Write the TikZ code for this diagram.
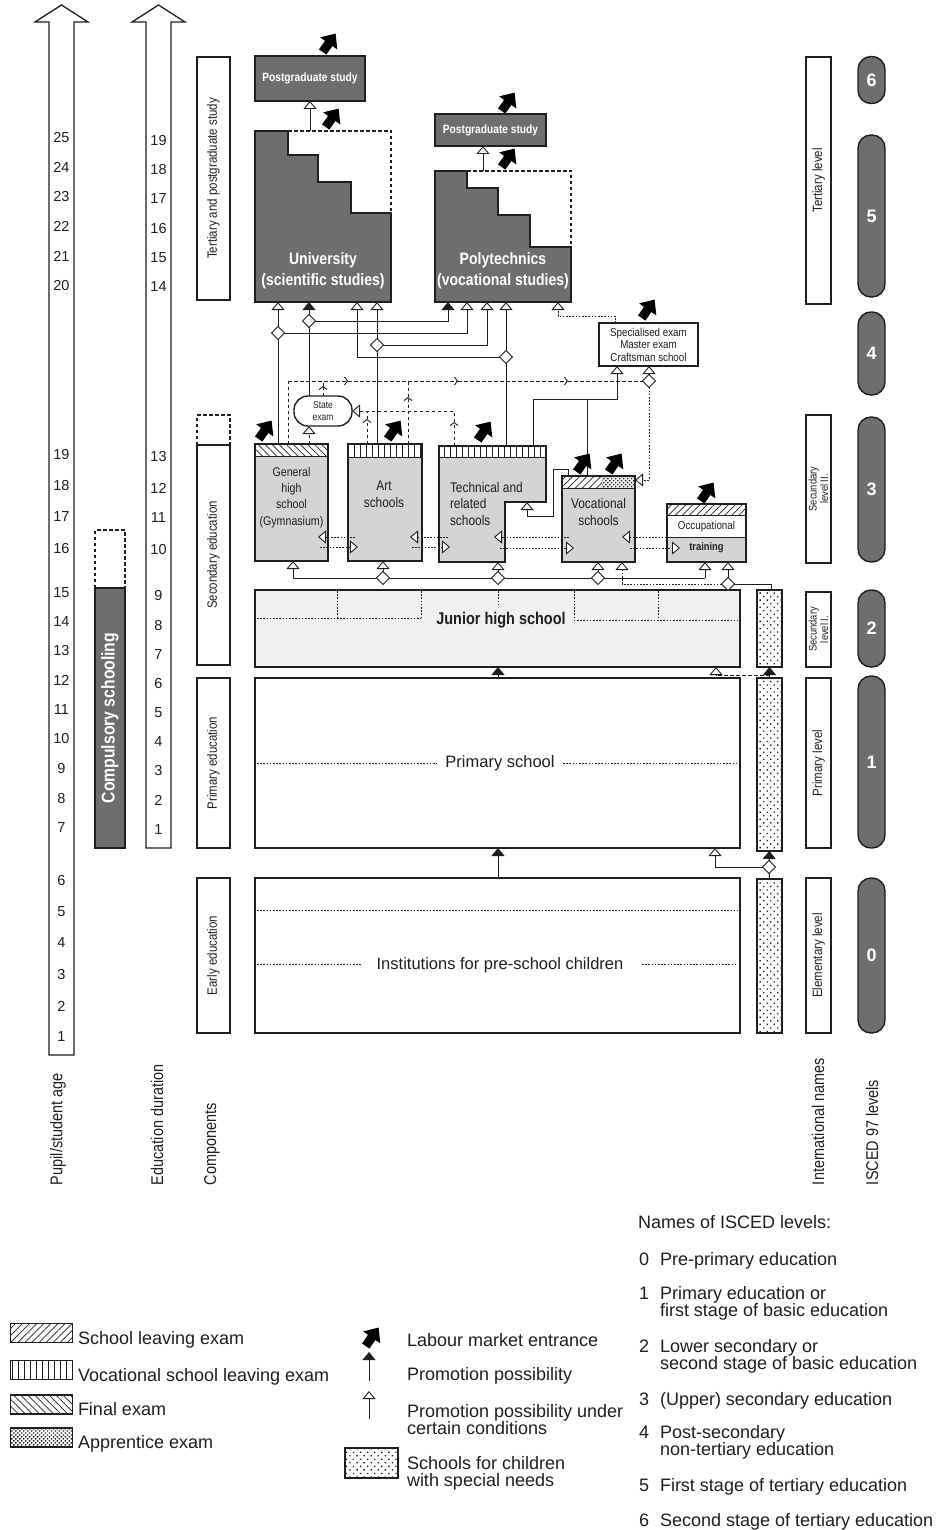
\documentclass[tikz,border=0pt]{standalone}
\usepackage{fontspec}
\setmainfont{Liberation Sans}
\newfontfamily\nf{Liberation Sans}[FakeStretch=0.85]
\usetikzlibrary{arrows.meta,shapes.geometric,patterns.meta}
\definecolor{dk}{gray}{0.43}
\definecolor{lt}{gray}{0.83}
\definecolor{vlt}{gray}{0.94}
\definecolor{ink}{gray}{0.12}
\newcommand\fs[2]{\fontsize{#1}{#2}\selectfont}
\tikzset{
  labour/.pic={\fill[black] (-4.5,11) -- (-4.5,0.5) -- (-10.5,0.5) -- (0,-11.5) -- (10.5,0.5) -- (4.5,0.5) -- (4.5,11) -- cycle;},
}
\begin{document}
\begin{tikzpicture}[x=1pt,y=-1pt,
  every node/.style={inner sep=0pt, outer sep=0pt, text=ink},
  bx/.style={draw=ink, line width=1.4pt},
  lbl/.style={bx, rotate=90, font=\nf\fs{13.5}{15}, align=center},
  pill/.style={draw=ink, line width=1.4pt, fill=dk, rounded corners=13pt, minimum width=27, text=white, font=\bfseries\fs{18}{20}},
  dkbox/.style={bx, fill=dk, text=white, font=\nf\bfseries\fs{12}{14}},
  sec/.style={bx, fill=lt},
  cn/.style={line width=1pt, draw=ink},
  otri/.style={-{Triangle[width=13pt,length=8pt,fill=white,line width=0.9pt]}},
  ftri/.style={-{Triangle[width=13pt,length=8pt]}},
  chev/.style={-{Straight Barb[length=3pt,width=8pt,line width=0.9pt]}},
  dsh/.style={dash pattern=on 3.5pt off 2.5pt},
  dtt/.style={dash pattern=on 1.6pt off 1.6pt},
  dia/.style={diamond, draw=ink, fill=white, line width=0.9pt, minimum width=13pt, minimum height=13pt},
  num/.style={font=\fs{14.5}{16}},
  snp/.style={bx, pattern color=ink, pattern={Dots[distance=5pt,radius=0.95pt,angle=45]}},
  leg/.style={anchor=base west, font=\fs{18}{18}},
  rlab/.style={rotate=90, anchor=west, font=\nf\fs{17}{19}},
]
\fill[white] (0,0) rectangle (935,1530);
\useasboundingbox (0,0) rectangle (935,1530);

% ---------- left scales ----------
\draw[line width=1.3pt, draw=ink, fill=white] (49,1055) -- (49,22) -- (35,22) -- (61.5,5) -- (88,22) -- (74,22) -- (74,1055) -- cycle;
\draw[line width=1.3pt, draw=ink, fill=white] (146,848) -- (146,22) -- (132,22) -- (158.5,5) -- (185,22) -- (171,22) -- (171,848) -- cycle;
\foreach \n/\y in {25/138,24/167,23/197,22/226,21/256,20/286,19/455,18/486,17/517,16/549,15/593,14/622,13/651,12/680,11/710,10/739,9/769,8/798,7/828,6/880,5/912,4/943,3/974,2/1006,1/1037}
  \node[num] at (61.5,\y) {\n};
\foreach \n/\y in {19/141,18/170,17/199,16/229,15/258,14/287,13/457,12/488,11/518,10/550,9/596,8/626,7/655,6/684,5/713,4/742,3/771,2/800,1/830}
  \node[num] at (158.5,\y) {\n};

\node[bx, fill=dk, minimum width=30, minimum height=260] (comp) at (110,718) {};
\node[rotate=90, text=white, font=\nf\bfseries\fs{18.5}{20}] at (comp.center) {Compulsory schooling};
\draw[ink, line width=1.2pt, dsh] (comp.north west) -- ++(0,-58) -- ++(30,0) -- (comp.north east);

% ---------- components ----------
\node[lbl, minimum width=243, minimum height=33] (cter) at (213.5,178.5) {Tertiary and postgraduate study};
\draw[ink, line width=1.2pt, dsh] (197,445) -- (197,415) -- (230,415) -- (230,445);
\node[lbl, minimum width=220, minimum height=33] (csec) at (213.5,555) {Secondary education};
\node[lbl, minimum width=170, minimum height=33] (cpri) at (213.5,763) {Primary education};
\node[lbl, minimum width=155, minimum height=33] (cear) at (213.5,955.5) {Early education};

% ---------- international names ----------
\node[lbl, minimum width=247, minimum height=25] (iter) at (818.5,180.5) {Tertiary level};
\node[lbl, minimum width=148, minimum height=25, font=\nf\fs{11}{11.5}] (isec2) at (818.5,489) {Secundary\\level II.};
\node[lbl, minimum width=75, minimum height=25, font=\nf\fs{11}{11.5}] (isec1) at (818.5,629.5) {Secundary\\level I.};
\node[lbl, minimum width=170, minimum height=25] (ipri) at (818.5,763) {Primary level};
\node[lbl, minimum width=155, minimum height=25] (iele) at (818.5,955.5) {Elementary level};

% ---------- ISCED ----------
\node[pill, minimum height=47] (l6) at (871.5,80) {6};
\node[pill, minimum height=162] (l5) at (871.5,216) {5};
\node[pill, minimum height=83] (l4) at (871.5,353.5) {4};
\node[pill, minimum height=145] (l3) at (871.5,489.5) {3};
\node[pill, minimum height=77] (l2) at (871.5,628.5) {2};
\node[pill, minimum height=172] (l1) at (871.5,762) {1};
\node[pill, minimum height=155] (l0) at (871.5,955.5) {0};

% ---------- bottom column titles ----------
\node[rlab] at (58,1185) {Pupil/student age};
\node[rlab] at (157,1185) {Education duration};
\node[rlab] at (212,1185) {Components};
\node[rlab] at (818,1185) {International names};
\node[rlab] at (872,1185) {ISCED 97 levels};

% ---------- tertiary ----------
\node[dkbox, minimum width=110, minimum height=45] (pg1) at (310,78.5) {Postgraduate study};
\node[dkbox, minimum width=111, minimum height=32] (pg2) at (490.5,130) {Postgraduate study};

\draw[bx, fill=dk] (255,131) -- (288,131) -- (288,155) -- (318,155) -- (318,182) -- (351,182) -- (351,213) -- (391,213) -- (391,302) -- (255,302) -- cycle;
\draw[ink, line width=1.4pt, dsh] (288,131) -- (391,131) -- (391,213);
\node[minimum width=136, minimum height=171] (uni) at (323,216.5) {};
\node[align=center, text=white, font=\nf\bfseries\fs{16.5}{21}] at (323,271) {University\\(scientific studies)};

\draw[bx, fill=dk] (435,171) -- (467,171) -- (467,188) -- (498,188) -- (498,215) -- (530,215) -- (530,247) -- (571,247) -- (571,302) -- (435,302) -- cycle;
\draw[ink, line width=1.4pt, dsh] (467,171) -- (571,171) -- (571,247);
\node[minimum width=136, minimum height=131] (poly) at (503,236.5) {};
\node[align=center, text=white, font=\nf\bfseries\fs{16.5}{21}] at (503,271) {Polytechnics\\(vocational studies)};

\draw[cn, otri] (uni.north -| 310,0) -- (pg1.south);
\draw[cn, otri] (poly.north -| 483,0) -- (pg2.south -| 483,0);

% ---------- post-secondary & state exam ----------
\node[bx, fill=white, minimum width=99, minimum height=43, align=center, font=\nf\fs{11.5}{12.5}] (spec) at (648.5,344.5) {Specialised exam\\Master exam\\Craftsman school};
\node[bx, fill=white, rounded corners=14pt, minimum width=58, minimum height=30, align=center, font=\nf\fs{10}{12}] (state) at (323,411) {State\\exam};

% ---------- secondary schools ----------
\node[sec, minimum width=73, minimum height=117] (gym) at (291.5,502.5) {};
\fill[white] (255,444) rectangle (328,456);
\fill[pattern color=ink, pattern={Lines[angle=-45,distance=5pt,line width=0.7pt]}] (255,444) rectangle (328,456);
\draw[ink, line width=1pt] (255,456) -- (328,456);
\draw[bx] (gym.north west) rectangle (gym.south east);
\node[align=center, font=\nf\fs{12.5}{16.3}] at (291.5,497.5) {General\\high\\school\\(Gymnasium)};

\node[sec, minimum width=74, minimum height=117] (art) at (385,502.5) {};
\fill[white] (348,444) rectangle (422,457);
\fill[pattern color=ink, pattern={Lines[angle=90,distance=6pt,line width=0.7pt]}] (348,444) rectangle (422,457);
\draw[ink, line width=1pt] (348,457) -- (422,457);
\draw[bx] (art.north west) rectangle (art.south east);
\node[align=center, font=\nf\fs{14}{17}] at (384,494.5) {Art\\schools};

\fill[lt] (439,446) -- (546,446) -- (546,502) -- (505,502) -- (505,562) -- (439,562) -- cycle;
\fill[white] (439,446) rectangle (546,457);
\fill[pattern color=ink, pattern={Lines[angle=90,distance=6pt,line width=0.7pt]}] (439,446) rectangle (546,457);
\draw[ink, line width=1pt] (439,457) -- (546,457);
\draw[bx] (439,446) -- (546,446) -- (546,502) -- (505,502) -- (505,562) -- (439,562) -- cycle;
\node[minimum width=107, minimum height=116] (tech) at (492.5,504) {};
\node[align=left, anchor=west, font=\nf\fs{14}{16.5}] at (450,503.5) {Technical and\\related\\schools};

\node[sec, minimum width=73, minimum height=86] (voc) at (598.5,519) {};
\fill[white] (562,476) rectangle (635,488);
\fill[pattern color=ink, pattern={Lines[angle=45,distance=5pt,line width=0.7pt]}] (562,476) rectangle (602,488);
\fill[pattern color=ink, pattern={Dots[distance=2.8pt,radius=1pt,angle=45]}] (602,476) rectangle (635,488);
\draw[ink, line width=1pt] (562,488) -- (635,488);
\draw[bx] (voc.north west) rectangle (voc.south east);
\node[align=center, font=\nf\fs{14}{17}] at (598.5,511.5) {Vocational\\schools};

\node[sec, minimum width=79, minimum height=58] (occ) at (706.5,533) {};
\fill[white] (667,504) rectangle (746,537);
\fill[pattern color=ink, pattern={Lines[angle=45,distance=5pt,line width=0.7pt]}] (667,504) rectangle (746,515);
\draw[ink, line width=1pt] (667,515) -- (746,515);
\draw[ink, line width=0.8pt] (667,537) -- (746,537);
\draw[bx] (occ.north west) rectangle (occ.south east);
\node[font=\nf\fs{11.5}{12}] at (706.5,526.5) {Occupational};
\node[font=\nf\bfseries\fs{11}{12}] at (706.5,548) {training};

% ---------- junior / primary / pre-school ----------
\node[bx, fill=vlt, minimum width=485, minimum height=77] (jun) at (497.5,628.5) {};
\begin{scope}[ink, line width=0.7pt, dtt]
\draw (257,618) -- (421,618);
\draw (337,591) -- (337,618);
\draw (421,591) -- (421,618);
\draw (498,591) -- (498,607);
\draw (574,591) -- (574,620) -- (738,620);
\draw (658,591) -- (658,620);
\end{scope}
\node[font=\nf\bfseries\fs{17}{19}] at (501,620) {Junior high school};

\node[bx, fill=white, minimum width=485, minimum height=170] (pri) at (497.5,763) {};
\draw[ink, line width=0.6pt, dtt] (257,763) -- (437,763);
\draw[ink, line width=0.6pt, dtt] (563,763) -- (738,763);
\node[font=\fs{16.5}{18}] at (500,763) {Primary school};

\node[bx, fill=white, minimum width=485, minimum height=155] (inst) at (497.5,955.5) {};
\draw[ink, line width=0.6pt, dtt] (257,910) -- (738,910);
\draw[ink, line width=0.6pt, dtt] (257,964) -- (362,964);
\draw[ink, line width=0.6pt, dtt] (642,964) -- (738,964);
\node[font=\fs{16.5}{18}] at (500,965) {Institutions for pre-school children};

\node[snp, minimum width=25, minimum height=77] (sn1) at (769.5,628.5) {};
\node[snp, minimum width=25, minimum height=173] (sn2) at (769.5,764.5) {};
\node[snp, minimum width=25, minimum height=154] (sn3) at (769.5,956) {};

% ---------- junction points ----------
\coordinate (d1) at (278,333);
\coordinate (d2) at (309,321);
\coordinate (d3) at (377,345);
\coordinate (d4) at (506,357);
\coordinate (d5) at (649,381);
\coordinate (d6) at (383,578);
\coordinate (d7) at (498,578);
\coordinate (d8) at (598,578);
\coordinate (d9) at (728,584);
\coordinate (d10) at (769,867);

% ---------- connectors to tertiary ----------
\draw[cn, otri] (gym.north -| d1) -- (uni.south -| d1);
\draw[cn, otri] (d1) -- (d1 -| 467,0) -- (poly.south -| 467,0);
\draw[cn, ftri] (state.north -| d2) -- (uni.south -| d2);
\draw[cn, ftri] (d2) -- (d2 -| 448,0) -- (poly.south -| 448,0);
\draw[cn, otri] (art.north -| d3) -- (uni.south -| d3);
\draw[cn, otri] (d3) -- (d3 -| 487,0) -- (poly.south -| 487,0);
\draw[cn, otri] (tech.north -| d4) -- (poly.south -| d4);
\draw[cn, otri] (d4) -- (d4 -| 357,0) -- (uni.south -| 357,0);
\draw[cn, dtt, otri] (spec.north -| 615,0) -- (615,316) -- (558,316) -- (poly.south -| 558,0);
\draw[cn, dsh, otri] (gym.north -| 309,0) -- (state.south -| 309,0);

% dashed collector at y=381
\coordinate (r1) at (288,381);
\draw[cn, dsh] (gym.north -| r1) -- (r1);
\draw[cn, dsh, chev] (r1) -- (348,381);
\draw[cn, dsh, chev] (348,381) -- (458,381);
\draw[cn, dsh, chev] (458,381) -- (568,381);
\draw[cn, dsh] (568,381) -- (d5);
\draw[cn, dsh, chev] (state.north) -- (323,386);
\draw[cn, dsh] (323,386) -- (323,381);
\draw[cn, dsh, chev] (art.north -| 408,0) -- (408,397);
\draw[cn, dsh] (408,397) -- (408,381);
\draw[cn, otri] (d5) -- (spec.south -| d5);
\draw[cn, dtt, otri] (d5) -- (649,480) -- (voc.east |- 0,480);

% dashed line at y=411 into state exam
\draw[cn, dsh, chev] (tech.north -| 454,0) -- (454,422);
\draw[cn, dsh, otri] (454,422) -- (454,411) -- (state.east);
\draw[cn, dsh, chev] (art.north -| 367,0) -- (367,419);
\draw[cn, dsh] (367,419) -- (367,411);

% technical / vocational to post-secondary
\draw[cn] (tech.north -| 533,0) -- (533,399) -- (617,399);
\draw[cn, otri] (voc.north -| 587,0) -- (587,399) -- (617,399) -- (spec.south -| 617,0);
\draw[cn, otri] (voc.north -| 568,0) -- (568,469) -- (553,469) -- (553,516) -- (527,516) -- (527,502);

% transfers between secondary schools
\draw[cn, dtt, otri] (355,537) -- (318,537);
\draw[cn, dtt, otri] (320,547) -- (358,547);
\draw[cn, dtt, otri] (448,537) -- (410,537);
\draw[cn, dtt, otri] (412,547) -- (450,547);
\draw[cn, dtt, otri] (569,537) -- (494,537);
\draw[cn, dtt, otri] (500,548) -- (574,548);
\draw[cn, dtt, otri] (673,537) -- (622,537);
\draw[cn, dtt, otri] (630,548) -- (680,548);

% junior high to secondary
\coordinate (b1) at (293,578);
\coordinate (b2) at (705,578);
\draw[cn, otri] (b1) -- (gym.south -| b1);
\draw[cn] (b1) -- (b2);
\draw[cn, otri] (b2) -- (occ.south -| b2);
\draw[cn, otri] (d6) -- (art.south -| d6);
\draw[cn, otri] (d7) -- (tech.south -| d7);
\draw[cn, otri] (d8) -- (voc.south -| d8);
\draw[cn, dtt] (d9) -- (622,584);
\draw[cn, dtt, otri] (622,584) -- (voc.south -| 622,0);
\draw[cn, otri] (d9) -- (occ.south -| d9);
\draw[cn] (d9) -- (771,584) -- (sn1.north -| 771,0);

% lower levels
\draw[cn, ftri] (pri.north -| 498,0) -- (jun.south -| 498,0);
\draw[cn, ftri] (sn2.north) -- (sn1.south);
\coordinate (j1) at (716,675);
\draw[cn, dsh] (sn2.north |- j1) -- (j1);
\draw[cn, otri] (j1) -- (jun.south -| j1);
\draw[cn, ftri] (inst.north -| 498,0) -- (pri.south -| 498,0);
\coordinate (p1) at (715,867);
\draw[cn, otri] (d10) -- (p1) -- (pri.south -| p1);
\draw[cn, ftri] (d10) -- (sn2.south);
\draw[cn] (d10) -- (sn3.north);

\foreach \d in {d1,d2,d3,d4,d5,d6,d7,d8,d9,d10} \node[dia] at (\d) {};

% labour market arrows
\foreach \a/\b in {329/43,332/118,508/102,508/158,648/309,265/430,394/430,484/431,583/463,615/463,707/492,372/1337}
  \pic[rotate=-35] at (\a,\b) {labour};

% ---------- legend left ----------
\node[bx, line width=1.2pt, minimum width=62, minimum height=19, pattern color=ink, pattern={Lines[angle=45,distance=5pt,line width=0.7pt]}] (lg1) at (41.5,1333) {};
\node[bx, line width=1.2pt, minimum width=62, minimum height=19, pattern color=ink, pattern={Lines[angle=90,distance=6pt,line width=0.7pt]}] (lg2) at (41.5,1370) {};
\node[bx, line width=1.2pt, minimum width=62, minimum height=19, pattern color=ink, pattern={Lines[angle=-45,distance=5pt,line width=0.7pt]}] (lg3) at (41.5,1404.5) {};
\node[bx, line width=1.2pt, minimum width=62, minimum height=19, pattern color=ink, pattern={Dots[distance=2.8pt,radius=1pt,angle=45]}] (lg4) at (41.5,1437.5) {};
\node[leg] at (78,1344) {School leaving exam};
\node[leg] at (78,1381) {Vocational school leaving exam};
\node[leg] at (78,1415) {Final exam};
\node[leg] at (78,1448) {Apprentice exam};

% ---------- legend middle ----------
\coordinate (m1) at (369,1381);
\coordinate (m2) at (369,1419);
\draw[cn, ftri] (m1) -- (369,1352);
\draw[cn, otri] (m2) -- (369,1391);
\node[snp, line width=1.2pt, minimum width=53, minimum height=30] (lg5) at (371.5,1463) {};
\node[leg] at (407,1346) {Labour market entrance};
\node[leg] at (407,1380) {Promotion possibility};
\node[leg] at (407,1417) {Promotion possibility under};
\node[leg] at (407,1434) {certain conditions};
\node[leg] at (407,1469) {Schools for children};
\node[leg] at (407,1486) {with special needs};

% ---------- legend right ----------
\node[leg] at (638,1228) {Names of ISCED levels:};
\foreach \n/\y in {0/1265,1/1299,2/1352,3/1405,4/1438,5/1491,6/1526}
  \node[leg] at (639,\y) {\n};
\node[leg] at (660,1265) {Pre-primary education};
\node[leg] at (660,1299) {Primary education or};
\node[leg] at (660,1316) {first stage of basic education};
\node[leg] at (660,1352) {Lower secondary or};
\node[leg] at (660,1369) {second stage of basic education};
\node[leg] at (660,1405) {(Upper) secondary education};
\node[leg] at (660,1438) {Post-secondary};
\node[leg] at (660,1455) {non-tertiary education};
\node[leg] at (660,1491) {First stage of tertiary education};
\node[leg] at (660,1526) {Second stage of tertiary education};
\end{tikzpicture}
\end{document}
